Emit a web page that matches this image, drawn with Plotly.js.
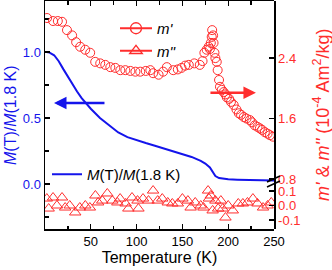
<!DOCTYPE html>
<html>
<head>
<meta charset="utf-8">
<script src="https://cdn.plot.ly/plotly-3.0.1.min.js"></script>
<style>html,body{margin:0;padding:0;background:#fff;}#plot{width:332px;height:270px;}</style>
</head>
<body>
<div id="plot"></div>
<script>
// M(T)/M(1.8 K) - left axis
const tM = [1.8, 5, 10, 15, 20, 25, 30, 35, 40, 45, 50, 60, 70, 80, 90, 100, 110, 120, 130, 140, 150, 160, 170, 175, 180, 183, 186, 190, 195, 200, 210, 220, 230, 240, 250];
const vM = [1.0, 0.995, 0.975, 0.93, 0.87, 0.81, 0.755, 0.70, 0.65, 0.61, 0.57, 0.50, 0.445, 0.39, 0.355, 0.33, 0.31, 0.29, 0.27, 0.25, 0.23, 0.205, 0.175, 0.155, 0.125, 0.09, 0.06, 0.045, 0.038, 0.035, 0.032, 0.03, 0.028, 0.027, 0.026];

// m' (10^-4 Am^2/kg) - right upper axis
const tM1 = [2.2, 8.8, 14, 18.6, 24, 29.6, 34, 38.4, 43.9, 49.3, 54.8, 60.3, 65.8, 71.3, 76.8, 82.2, 87.7, 93.2, 98.7, 104, 110, 115, 118, 124, 129, 133, 140, 145, 149, 153, 157, 163, 169, 172, 174, 176.5, 178.7, 180, 181, 182, 182.5, 183.5, 184, 185, 186, 187.5, 188.5, 190, 191, 193, 195, 197, 198.5, 201, 203, 206, 209, 211.6, 214, 217, 220, 223.7, 226, 229, 232, 234.6, 237, 240, 243, 245.6, 249];
const vM1 = [2.93, 2.89, 2.89, 2.88, 2.77, 2.70, 2.61, 2.55, 2.51, 2.47, 2.35, 2.33, 2.31, 2.28, 2.27, 2.24, 2.24, 2.23, 2.22, 2.22, 2.23, 2.24, 2.20, 2.18, 2.22, 2.28, 2.24, 2.25, 2.27, 2.30, 2.31, 2.33, 2.31, 2.36, 2.47, 2.51, 2.55, 2.52, 2.60, 2.68, 2.77, 2.70, 2.60, 2.47, 2.40, 2.35, 2.24, 2.11, 2.02, 1.98, 1.95, 1.92, 1.88, 1.86, 1.82, 1.78, 1.72, 1.67, 1.65, 1.62, 1.60, 1.58, 1.55, 1.51, 1.49, 1.47, 1.45, 1.42, 1.40, 1.38, 1.36];

// m'' - right lower axis
const tM2 = [2, 4, 8.8, 13, 18.6, 22, 27, 33, 38, 44, 49, 55, 58, 62.5, 68, 73.5, 79, 82, 88, 91, 95, 101, 102, 107, 113, 118, 123, 128, 134, 139, 145, 150, 156, 159, 164, 170, 173, 178, 179, 181, 183, 186, 189, 192, 194, 197, 200, 205, 211, 216, 221, 227, 232, 238, 243, 247];
const vM2 = [0.048, -0.021, 0.055, 0.0, 0.055, -0.014, 0.0, -0.048, -0.014, 0.0, -0.014, 0.069, 0.021, 0.034, 0.083, 0.034, 0.021, 0.048, 0.014, -0.021, 0.055, 0.034, -0.021, 0.048, 0.034, 0.103, 0.034, 0.048, 0.021, 0.014, 0.014, 0.048, 0.034, -0.014, 0.021, 0.0, -0.014, 0.103, 0.048, 0.069, -0.034, 0.034, -0.021, 0.034, -0.021, -0.083, 0.0, -0.034, 0.014, 0.014, 0.021, 0.048, 0.014, -0.014, 0.0, 0.021];

const xTicks = [50, 100, 150, 200, 250];
const leftTicks = [0, 0.5, 1.0];
const upperTicks = [0.8, 1.6, 2.4];
const lowerTicks = [-0.1, 0.0, 0.1];

const BLUE = 'rgb(20,20,235)';
const RED = 'rgb(255,45,45)';
const FONT = 'Liberation Sans, Arial, sans-serif';

const traces = [
  {x: tM, y: vM, xaxis: 'x', yaxis: 'y', mode: 'lines', name: '<i>M</i>(T)/<i>M</i>(1.8 K)',
   line: {color: BLUE, width: 2}, legend: 'legend2', showlegend: true},
  {x: tM1, y: vM1, xaxis: 'x', yaxis: 'y2', mode: 'markers', showlegend: false,
   marker: {symbol: 'circle-open', size: 9, color: RED, line: {width: 1, color: RED}}},
  {x: tM2, y: vM2, xaxis: 'x', yaxis: 'y3', mode: 'markers', showlegend: false,
   marker: {symbol: 'triangle-up-open', size: 10, color: RED, line: {width: 1, color: RED}}},
  {x: [null], y: [null], xaxis: 'x', yaxis: 'y2', mode: 'lines+markers', name: "<i>m'</i>",
   line: {color: RED, width: 2}, marker: {symbol: 'circle-open', size: 11, color: RED, line: {width: 1.3, color: RED}}, legend: 'legend'},
  {x: [null], y: [null], xaxis: 'x', yaxis: 'y3', mode: 'lines+markers', name: "<i>m''</i>",
   line: {color: RED, width: 2}, marker: {symbol: 'triangle-up-open', size: 11, color: RED, line: {width: 1.3, color: RED}}, legend: 'legend'}
];

const L = 45, R = 58, T = 1, B = 41;
const W = 332 - L - R, H = 270 - T - B;
const breakFrac = (229 - 181) / H;
function px(xp) { return (xp - L) / W; }
function py(yp) { return (270 - B - yp) / H; }

const layout = {
  width: 332, height: 270,
  margin: {l: L, r: R, t: T, b: B, pad: 0},
  paper_bgcolor: '#fff', plot_bgcolor: 'rgba(0,0,0,0)',
  font: {family: FONT, size: 13, color: '#000'},
  xaxis: {
    range: [0, 250], tickvals: xTicks, ticks: 'inside', ticklen: 5, tickwidth: 1.3, tickcolor: '#000',
    minor: {dtick: 25, tick0: 0, ticks: 'inside', ticklen: 3.5, tickwidth: 1.3, tickcolor: '#000'},
    showline: true, linecolor: '#000', linewidth: 1.5, mirror: 'ticks', showgrid: false, zeroline: false,
    tickfont: {size: 13, color: '#000'},
    title: {text: 'Temperature (K)', font: {size: 16, color: '#000'}, standoff: 3},
    anchor: 'y'
  },
  yaxis: {
    range: [-0.341, 1.386], domain: [0, 1], tickvals: leftTicks, ticktext: ['0.0', '0.5', '1.0'],
    ticks: 'inside', ticklen: 5, tickwidth: 1.3, tickcolor: '#000',
    minor: {dtick: 0.25, tick0: 0, ticks: 'inside', ticklen: 3.5, tickwidth: 1.3, tickcolor: '#000'},
    showline: true, linecolor: '#000', linewidth: 1.5, showgrid: false, zeroline: false,
    tickfont: {size: 13, color: BLUE}, anchor: 'x'
  },
  yaxis2: {
    range: [0.774, 3.155], domain: [breakFrac, 1], side: 'right', anchor: 'x',
    tickvals: upperTicks, ticktext: ['0.8', '1.6', '2.4'],
    ticks: 'inside', ticklen: 5, tickwidth: 1.3, tickcolor: '#000',
    showline: true, linecolor: '#000', linewidth: 1.5, showgrid: false, zeroline: false,
    tickfont: {size: 13, color: RED}
  },
  yaxis3: {
    range: [-0.162, 0.169], domain: [0, breakFrac], side: 'right', anchor: 'x',
    tickvals: lowerTicks, ticktext: ['-0.1', '0.0', '0.1'],
    ticks: 'inside', ticklen: 5, tickwidth: 1.3, tickcolor: '#000',
    showline: true, linecolor: '#000', linewidth: 1.5, showgrid: false, zeroline: false,
    tickfont: {size: 13, color: RED}
  },
  legend: {
    x: px(115), y: py(12), xanchor: 'left', yanchor: 'top', bgcolor: 'rgba(0,0,0,0)',
    font: {size: 15, color: '#000'}, itemwidth: 32, tracegroupgap: 0
  },
  legend2: {
    x: px(47), y: py(158), xanchor: 'left', yanchor: 'top', bgcolor: 'rgba(0,0,0,0)',
    font: {size: 15, color: '#000'}, itemwidth: 30
  },
  annotations: [
    {xref: 'paper', yref: 'paper', x: px(10), y: 0.5, textangle: -90, showarrow: false,
     text: '<i>M</i>(T)/<i>M</i>(1.8 K)', font: {size: 16, color: BLUE}, xanchor: 'center', yanchor: 'middle'},
    {xref: 'paper', yref: 'paper', x: px(321), y: py(115), textangle: -90, showarrow: false,
     text: "<i>m'</i> & <i>m''</i> (10<sup>-4</sup> Am<sup>2</sup>/kg)", font: {size: 18, color: RED}, xanchor: 'center', yanchor: 'middle'},
    {xref: 'x', yref: 'y', x: 9.8, y: 0.614, ax: 52, ay: 0, text: '', showarrow: true,
     arrowhead: 2, arrowsize: 1, arrowwidth: 2.5, arrowcolor: BLUE},
    {xref: 'x', yref: 'y2', x: 230.3, y: 1.94, ax: -47, ay: 0, text: '', showarrow: true,
     arrowhead: 2, arrowsize: 1, arrowwidth: 2.5, arrowcolor: RED}
  ],
  shapes: [
    {type: 'line', xref: 'paper', yref: 'paper', x0: px(267), y0: py(182), x1: px(280), y1: py(176), line: {color: '#000', width: 1.5}},
    {type: 'line', xref: 'paper', yref: 'paper', x0: px(267), y0: py(187), x1: px(280), y1: py(181), line: {color: '#000', width: 1.5}}
  ]
};

Plotly.newPlot('plot', traces, layout, {staticPlot: true, displayModeBar: false});
</script>
</body>
</html>
